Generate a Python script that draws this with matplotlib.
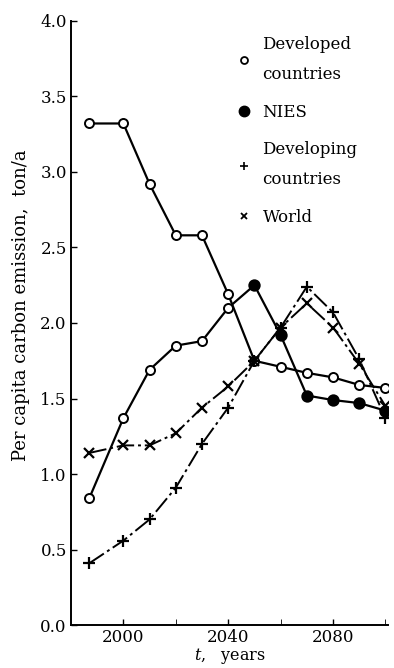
import matplotlib
matplotlib.use("Agg")
import matplotlib.pyplot as plt
from matplotlib.lines import Line2D
import numpy as np

plt.rcParams['font.family'] = ['DejaVu Serif', 'Liberation Serif']
plt.rcParams['mathtext.fontset'] = 'dejavuserif'

years = [1987, 2000, 2010, 2020, 2030, 2040, 2050, 2060, 2070, 2080, 2090, 2100]
developed = [3.32, 3.32, 2.92, 2.58, 2.58, 2.19, 1.75, 1.71, 1.67, 1.64, 1.59, 1.57]
nies = [0.84, 1.37, 1.69, 1.85, 1.88, 2.10, 2.25, 1.92, 1.52, 1.49, 1.47, 1.42]
nies_filled = [False, False, False, False, False, False, True, True, True, True, True, True]
developing = [0.41, 0.56, 0.70, 0.91, 1.20, 1.44, 1.75, 1.97, 2.24, 2.07, 1.76, 1.37]
world = [1.14, 1.19, 1.19, 1.27, 1.44, 1.58, 1.75, 1.97, 2.13, 1.97, 1.73, 1.45]

labels = ["Developed\ncountries", "NIES", "Developing\ncountries", "World"]
yticks = [0.0, 0.5, 1.0, 1.5, 2.0, 2.5, 3.0, 3.5, 4.0]
xticks_major = [2000, 2040, 2080]
xticks_minor = [2020, 2060, 2100]

fig = plt.figure(figsize=(3.94, 6.68), dpi=100)
ax = fig.add_axes([0.18, 0.064, 0.805, 0.905])

k = 'black'
ax.plot(years, developed, color=k, lw=1.6, marker='o', ms=6.5, mfc='white', mec=k, mew=1.4, zorder=3)
ax.plot(years, nies, color=k, lw=1.6, zorder=2)
for x, y, f in zip(years, nies, nies_filled):
    ax.plot([x], [y], marker='o', ms=7.5 if f else 6.5, mfc=k if f else 'white', mec=k, mew=1.4, zorder=4)
ax.plot(years, developing, color=k, lw=1.4, dashes=(9, 2, 1.5, 2), marker='+', ms=8, mew=1.6, zorder=3)
ax.plot(years, world, color=k, lw=1.4, dashes=(9, 2, 1.5, 2), marker='x', ms=6.5, mew=1.6, zorder=3)

ax.set_xlim(1980, 2101)
ax.set_ylim(0, 4.0)
ax.set_yticks(yticks)
ax.set_yticklabels([f"{v:.1f}" for v in yticks])
ax.set_xticks(xticks_major)
ax.set_xticks(xticks_minor, minor=True)
ax.tick_params(axis='both', direction='in', labelsize=12, length=4, width=1, pad=3)
ax.tick_params(axis='x', which='minor', direction='in', length=4)
for s in ['top', 'right']:
    ax.spines[s].set_visible(False)
ax.spines['left'].set_linewidth(1.4)
ax.spines['bottom'].set_linewidth(1.4)

ax.set_ylabel("Per capita carbon emission,  ton/a", fontsize=13)
ax.yaxis.set_label_coords(-0.13, 0.53)
ax.set_xlabel(r"$t$,   years", fontsize=11.5, labelpad=0)

handles = [
    Line2D([], [], ls='none', marker='o', ms=5, mfc='white', mec=k, mew=1.3),
    Line2D([], [], ls='none', marker='o', ms=7.5, mfc=k, mec=k),
    Line2D([], [], ls='none', marker='+', ms=6, mec=k, mew=1.2),
    Line2D([], [], ls='none', marker='x', ms=5, mec=k, mew=1.3),
]
leg = ax.legend(handles, labels, loc='upper left', bbox_to_anchor=(0.478, 1.0),
                frameon=False, fontsize=12, handlelength=0.8, handletextpad=0.7,
                labelspacing=1.25)
for t in leg.get_texts():
    t.set_linespacing(2.0)

fig.savefig("out.png", dpi=100)
